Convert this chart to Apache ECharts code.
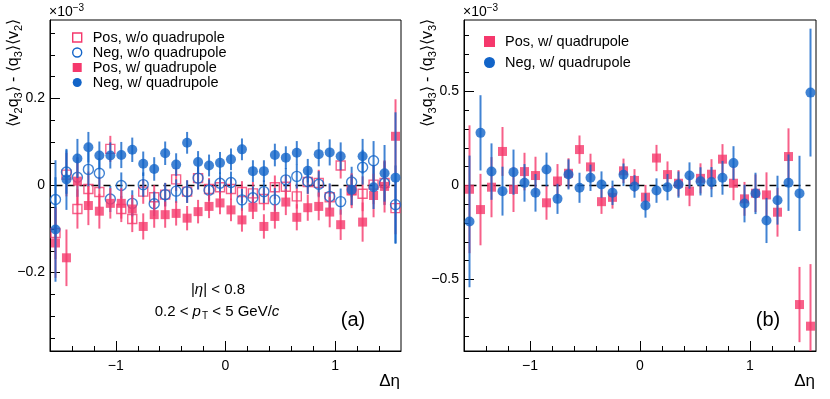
<!DOCTYPE html>
<html>
<head>
<meta charset="utf-8">
<script src="https://cdn.jsdelivr.net/npm/echarts@6/dist/echarts.min.js"></script>
<style>
  html, body { margin: 0; padding: 0; background: #fff; }
  #chart { width: 830px; height: 399px; }
</style>
</head>
<body>
<div id="chart"></div>
<script>
// bin centres in delta eta
const etaBins = [-1.55, -1.45, -1.35, -1.25, -1.15, -1.05, -0.95, -0.85, -0.75, -0.65, -0.55, -0.45, -0.35, -0.25, -0.15, -0.05,
    0.05, 0.15, 0.25, 0.35, 0.45, 0.55, 0.65, 0.75, 0.85, 0.95, 1.05, 1.15, 1.25, 1.35, 1.45, 1.55];

// panel (a): <v2 q3> - <q3><v2>, x 10^-3
const posWoQuad = [-0.109, 0.025, -0.054, -0.008, -0.015, 0.084, -0.054, -0.077, -0.014, -0.027, -0.021, 0.014, -0.014, 0.017, -0.008, -0.004,
    -0.008, -0.015, -0.018, -0.031, -0.004, -0.003, -0.025, 0.008, 0.006, -0.027, 0.046, -0.011, -0.019, 0.002, 0.006, -0.052];
const posWoQuadErr = [0.06, 0.05, 0.045, 0.04, 0.035, 0.03, 0.03, 0.03, 0.028, 0.028, 0.027, 0.027, 0.026, 0.026, 0.025, 0.025,
    0.025, 0.025, 0.026, 0.026, 0.027, 0.027, 0.028, 0.028, 0.03, 0.03, 0.03, 0.035, 0.04, 0.045, 0.05, 0.06];
const negWoQuad = [-0.032, 0.031, 0.019, 0.037, 0.028, -0.031, 0.0, -0.041, 0.002, -0.042, -0.021, -0.013, -0.014, 0.017, -0.011, 0.005,
    0.007, -0.033, -0.028, -0.014, -0.033, 0.013, 0.021, 0.009, 0.003, -0.025, -0.037, 0.008, 0.042, 0.057, 0.005, -0.044];
const negWoQuadErr = [0.09, 0.05, 0.045, 0.04, 0.035, 0.03, 0.03, 0.03, 0.028, 0.028, 0.027, 0.027, 0.026, 0.026, 0.025, 0.025,
    0.025, 0.025, 0.026, 0.026, 0.027, 0.027, 0.028, 0.028, 0.03, 0.03, 0.03, 0.035, 0.04, 0.045, 0.05, 0.09];
const posWQuad = [-0.132, -0.166, 0.010, -0.046, -0.059, -0.041, -0.041, -0.054, -0.094, -0.067, -0.067, -0.064, -0.075, -0.060, -0.048, -0.040,
    -0.056, -0.079, -0.050, -0.094, -0.071, -0.038, -0.073, -0.051, -0.048, -0.061, -0.090, -0.012, -0.084, -0.023, -0.002, 0.113];
const posWQuadErr = [0.08, 0.065, 0.055, 0.045, 0.04, 0.035, 0.035, 0.032, 0.03, 0.03, 0.03, 0.028, 0.028, 0.027, 0.027, 0.026,
    0.026, 0.027, 0.027, 0.028, 0.028, 0.03, 0.03, 0.03, 0.032, 0.035, 0.035, 0.04, 0.045, 0.05, 0.06, 0.085];
const negWQuad = [-0.101, 0.014, 0.062, 0.088, 0.069, 0.069, 0.070, 0.082, 0.050, 0.038, 0.074, 0.048, 0.098, 0.054, 0.046, 0.052,
    0.060, 0.083, 0.033, 0.033, 0.070, 0.064, 0.075, 0.034, 0.072, 0.076, 0.067, -0.010, 0.067, -0.004, 0.028, 0.018];
const negWQuadErr = [0.12, 0.07, 0.045, 0.035, 0.032, 0.03, 0.03, 0.028, 0.028, 0.027, 0.027, 0.026, 0.025, 0.025, 0.025, 0.025,
    0.025, 0.025, 0.025, 0.025, 0.026, 0.026, 0.027, 0.027, 0.028, 0.03, 0.032, 0.035, 0.04, 0.05, 0.065, 0.15];

// panel (b): <v3 q3> - <q3><v3>, x 10^-3
const posWQuadV3 = [-0.020, -0.128, -0.009, 0.181, -0.021, 0.074, 0.053, -0.092, 0.024, 0.065, 0.191, 0.099, -0.086, -0.063, 0.078, 0.027,
    -0.062, 0.146, 0.058, 0.012, -0.030, 0.038, 0.060, 0.140, 0.012, -0.071, -0.041, -0.050, -0.142, 0.154, -0.633, -0.748];
const posWQuadV3Err = [0.34, 0.19, 0.16, 0.13, 0.12, 0.1, 0.1, 0.09, 0.09, 0.08, 0.075, 0.07, 0.065, 0.06, 0.065, 0.06,
    0.065, 0.07, 0.07, 0.07, 0.08, 0.08, 0.08, 0.08, 0.09, 0.09, 0.1, 0.12, 0.13, 0.15, 0.2, 0.33];
const negWQuadV3 = [-0.191, 0.280, 0.074, -0.030, 0.071, 0.014, -0.039, 0.085, -0.071, 0.059, -0.012, 0.041, 0.005, -0.039, 0.057, -0.005,
    -0.106, -0.027, -0.009, 0.005, 0.053, 0.022, 0.018, 0.041, 0.119, -0.096, -0.042, -0.186, -0.078, 0.015, -0.042, 0.494];
const negWQuadV3Err = [0.35, 0.2, 0.15, 0.13, 0.12, 0.1, 0.1, 0.09, 0.08, 0.08, 0.08, 0.07, 0.07, 0.065, 0.06, 0.06,
    0.065, 0.065, 0.07, 0.07, 0.07, 0.075, 0.08, 0.09, 0.09, 0.1, 0.11, 0.12, 0.13, 0.15, 0.2, 0.34];

// dashed reference line at zero
const zeroLineX = [-1.55, 1.55];

// axis ticks
const xMajorTicks = [-1, 0, 1];
const xMinorTicks = [-1.4, -1.2, -0.8, -0.6, -0.4, -0.2, 0.2, 0.4, 0.6, 0.8, 1.2, 1.4];
const yMajorTicksA = [-0.2, 0, 0.2];
const yMinorTicksA = [-0.35, -0.3, -0.25, -0.15, -0.1, -0.05, 0.05, 0.1, 0.15, 0.25, 0.3, 0.35];
const yMajorTicksB = [-0.5, 0, 0.5];
const yMinorTicksB = [-0.8, -0.7, -0.6, -0.4, -0.3, -0.2, -0.1, 0.1, 0.2, 0.3, 0.4, 0.6, 0.7, 0.8];

const PINK = '#f5386c';
const BLUE = '#1264c8';
const FONT = 'Liberation Sans, Arial, Helvetica, sans-serif';

const minus = v => String(v).replace('-', '\u2212');

function xAxes(gridIndex) {
    return [
        {
            gridIndex: gridIndex, type: 'value', min: -1.6, max: 1.6, position: 'bottom',
            axisLine: { show: true, onZero: false, lineStyle: { color: '#000', width: 1 } },
            axisTick: { inside: true, length: 10, customValues: xMajorTicks, lineStyle: { color: '#000' } },
            axisLabel: { customValues: xMajorTicks, formatter: minus, color: '#000', fontSize: 14, fontFamily: FONT, margin: 8 },
            splitLine: { show: false },
            name: 'Δη', nameLocation: 'end', nameGap: -1,
            nameTextStyle: { color: '#000', fontSize: 17, fontFamily: FONT, align: 'right', verticalAlign: 'top', padding: [22, 0, 0, 0] }
        },
        {
            gridIndex: gridIndex, type: 'value', min: -1.6, max: 1.6, position: 'bottom',
            axisLine: { show: false, onZero: false },
            axisTick: { show: true, inside: true, length: 5, customValues: xMinorTicks, lineStyle: { color: '#000' } },
            axisLabel: { show: false },
            splitLine: { show: false }
        }
    ];
}

function yAxes(gridIndex, range, majors, minors) {
    return [
        {
            gridIndex: gridIndex, type: 'value', min: -range, max: range, position: 'left',
            axisLine: { show: true, onZero: false, lineStyle: { color: '#000', width: 1 } },
            axisTick: { inside: true, length: 10, customValues: majors, lineStyle: { color: '#000' } },
            axisLabel: { customValues: majors, formatter: minus, color: '#000', fontSize: 14, fontFamily: FONT, margin: 5 },
            splitLine: { show: false }
        },
        {
            gridIndex: gridIndex, type: 'value', min: -range, max: range, position: 'left',
            axisLine: { show: false, onZero: false },
            axisTick: { show: true, inside: true, length: 5, customValues: minors, lineStyle: { color: '#000' } },
            axisLabel: { show: false },
            splitLine: { show: false }
        }
    ];
}

function renderErrorBar(params, api) {
    const x = api.value(0), y = api.value(1), e = api.value(2);
    const top = api.coord([x, y + e]);
    const bot = api.coord([x, y - e]);
    const cs = params.coordSys;
    const y1 = Math.max(top[1], cs.y);
    const y2 = Math.min(bot[1], cs.y + cs.height);
    if (y2 <= y1) return null;
    return {
        type: 'line',
        shape: { x1: top[0], y1: y1, x2: top[0], y2: y2 },
        style: { stroke: api.visual('color'), lineWidth: 2, opacity: 0.8 }
    };
}

function pointSeries(name, values, errors, axisIndex, color, symbol, hollow, z) {
    return [
        {
            type: 'custom', name: name, xAxisIndex: axisIndex, yAxisIndex: axisIndex,
            renderItem: renderErrorBar,
            itemStyle: { color: color },
            encode: { x: 0, y: 1 },
            data: etaBins.map((x, i) => [x, values[i], errors[i]]),
            z: z, silent: true
        },
        {
            type: 'scatter', name: name, xAxisIndex: axisIndex, yAxisIndex: axisIndex,
            symbol: symbol, symbolSize: symbol === 'rect' ? 9 : 10,
            itemStyle: hollow
                ? { color: 'rgba(255,255,255,0)', borderColor: color, borderWidth: 1.4 }
                : { color: color },
            data: etaBins.map((x, i) => [x, values[i]]),
            z: z + 1, silent: true
        }
    ];
}

function legendItem(name, icon, color, hollow) {
    return {
        name: name, icon: icon,
        itemStyle: hollow
            ? { color: 'rgba(255,255,255,0)', borderColor: color, borderWidth: 1.4 }
            : { color: color, borderWidth: 0 }
    };
}

function zeroLine(axisIndex) {
    return {
        type: 'line', xAxisIndex: axisIndex, yAxisIndex: axisIndex,
        data: zeroLineX.map(x => [x, 0]),
        symbol: 'none', silent: true, z: 1,
        lineStyle: { color: '#000', width: 1.3, type: [7, 5] }
    };
}

const titleRich = {
    s: { fontSize: 11, fontFamily: FONT, padding: [9, 0, 0, 0] }
};

function axisTitle(x, text) {
    return {
        type: 'text', x: x, y: 19, rotation: Math.PI / 2,
        style: {
            text: text, rich: titleRich, fill: '#000',
            font: '16px ' + FONT, align: 'right', verticalAlign: 'middle'
        }
    };
}

function exponent(x) {
    return {
        type: 'text', x: x, y: 3,
        style: {
            text: '×10{sup|\u22123}', fill: '#000', font: '14px ' + FONT,
            rich: { sup: { fontSize: 10, fontFamily: FONT, padding: [0, 0, 8, 0] } }
        }
    };
}

const option = {
    animation: false,
    backgroundColor: '#fff',
    textStyle: { fontFamily: FONT },
    grid: [
        { left: 50, top: 20, width: 351, height: 331, show: true, borderColor: '#000', borderWidth: 1 },
        { left: 464, top: 20, width: 352, height: 331, show: true, borderColor: '#000', borderWidth: 1 }
    ],
    xAxis: [...xAxes(0), ...xAxes(1)],
    yAxis: [...yAxes(0, 0.38, yMajorTicksA, yMinorTicksA), ...yAxes(1, 0.88, yMajorTicksB, yMinorTicksB)],
    legend: [
        {
            left: 72, top: 30, orient: 'vertical', padding: 0, itemGap: 0,
            itemWidth: 9, itemHeight: 9, selectedMode: false,
            textStyle: { fontSize: 14.5, color: '#000', fontFamily: FONT, lineHeight: 10, padding: [0, 0, 0, 6] },
            data: [
                legendItem('Pos, w/o quadrupole', 'rect', PINK, true),
                legendItem('Neg, w/o quadrupole', 'circle', BLUE, true),
                legendItem('Pos, w/ quadrupole', 'rect', PINK, false),
                legendItem('Neg, w/ quadrupole', 'circle', BLUE, false)
            ]
        },
        {
            left: 484, top: 34, orient: 'vertical', padding: 0, itemGap: 6,
            itemWidth: 11, itemHeight: 11, selectedMode: false,
            textStyle: { fontSize: 14.5, color: '#000', fontFamily: FONT, lineHeight: 11, padding: [0, 0, 0, 5] },
            data: [
                legendItem('Pos, w/ quadrupole', 'rect', PINK, false),
                legendItem('Neg, w/ quadrupole', 'circle', BLUE, false)
            ]
        }
    ],
    graphic: [
        axisTitle(14, '⟨v{s|2}q{s|3}⟩ - ⟨q{s|3}⟩⟨v{s|2}⟩'),
        axisTitle(428, '⟨v{s|3}q{s|3}⟩ - ⟨q{s|3}⟩⟨v{s|3}⟩'),
        exponent(49),
        exponent(463),
        {
            type: 'text', x: 218, y: 290,
            style: { text: '|{i|η}| < 0.8', fill: '#000', font: '15px ' + FONT, align: 'center', verticalAlign: 'middle',
                rich: { i: { fontStyle: 'italic', fontSize: 15, fontFamily: FONT } } }
        },
        {
            type: 'text', x: 217, y: 312,
            style: { text: '0.2 < {i|p}{s|T} < 5 GeV/{i|c}', fill: '#000', font: '15px ' + FONT, align: 'center', verticalAlign: 'middle',
                rich: {
                    i: { fontStyle: 'italic', fontSize: 15, fontFamily: FONT },
                    s: { fontSize: 10, fontFamily: FONT, padding: [9, 0, 0, 1] }
                } }
        },
        {
            type: 'text', x: 353, y: 320,
            style: { text: '(a)', fill: '#000', font: '20px ' + FONT, align: 'center', verticalAlign: 'middle' }
        },
        {
            type: 'text', x: 768, y: 320,
            style: { text: '(b)', fill: '#000', font: '20px ' + FONT, align: 'center', verticalAlign: 'middle' }
        }
    ],
    series: [
        zeroLine(0),
        ...pointSeries('Pos, w/o quadrupole', posWoQuad, posWoQuadErr, 0, PINK, 'rect', true, 2),
        ...pointSeries('Neg, w/o quadrupole', negWoQuad, negWoQuadErr, 0, BLUE, 'circle', true, 4),
        ...pointSeries('Pos, w/ quadrupole', posWQuad, posWQuadErr, 0, PINK, 'rect', false, 6),
        ...pointSeries('Neg, w/ quadrupole', negWQuad, negWQuadErr, 0, BLUE, 'circle', false, 8),
        zeroLine(2),
        ...pointSeries('Pos, w/ quadrupole', posWQuadV3, posWQuadV3Err, 2, PINK, 'rect', false, 6),
        ...pointSeries('Neg, w/ quadrupole', negWQuadV3, negWQuadV3Err, 2, BLUE, 'circle', false, 8)
    ]
};

echarts.init(document.getElementById('chart')).setOption(option);
</script>
</body>
</html>
